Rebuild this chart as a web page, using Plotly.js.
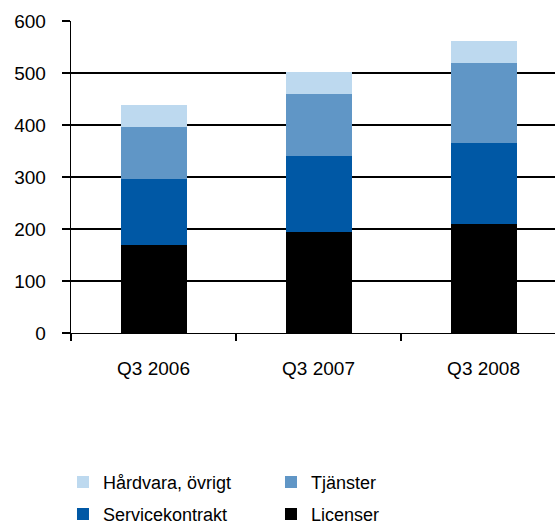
<!DOCTYPE html>
<html>
<head>
<meta charset="utf-8">
<script src="https://cdn.plot.ly/plotly-3.0.1.min.js"></script>
<style>html,body{margin:0;padding:0;background:#fff;overflow:hidden}#chart{width:555px;height:523px}</style>
</head>
<body>
<div id="chart"></div>
<script>
var categories = ["Q3 2006", "Q3 2007", "Q3 2008"];
var licenser = [170, 194, 209];
var servicekontrakt = [127, 146, 157];
var tjanster = [100, 119, 154];
var hardvara = [42, 42, 42];
var yTicks = [0, 100, 200, 300, 400, 500, 600];

var FONT = "Liberation Sans, Arial, sans-serif";
function bar(name, vals, color, legend) {
  return {type: "bar", name: name, x: categories, y: vals, legend: legend,
    marker: {color: color, line: {width: 0}}, hoverinfo: "skip"};
}
var data = [
  bar("Licenser", licenser, "#000000", "legend2"),
  bar("Servicekontrakt", servicekontrakt, "#0058A5", "legend2"),
  bar("Tjänster", tjanster, "#6096C6", "legend"),
  bar("Hårdvara, övrigt", hardvara, "#BDD9EF", "legend")
];
var legendCommon = {orientation: "h", traceorder: "reversed", entrywidth: 163, entrywidthmode: "pixels",
  font: {family: FONT, size: 18, color: "#000"}, x: 0.1135, xanchor: "left", xref: "container",
  yanchor: "middle", yref: "container", bgcolor: "rgba(0,0,0,0)"};
var layout = {
  width: 555, height: 523,
  margin: {l: 71, r: 0, t: 21, b: 190, pad: 0, autoexpand: false},
  paper_bgcolor: "#fff", plot_bgcolor: "#fff",
  barmode: "stack", bargap: 0.6,
  font: {family: FONT, color: "#000"},
  xaxis: {type: "category", range: [-0.5, 2.433], showline: true, linecolor: "#000", linewidth: 1.3,
    ticks: "outside", tickson: "boundaries", ticklen: 7, tickcolor: "#000", tickwidth: 1.3,
    ticklabelstandoff: 18,
    tickfont: {family: FONT, size: 19, color: "#000"}, showgrid: false, fixedrange: true},
  yaxis: {range: [0, 600], tickvals: yTicks, showline: true, linecolor: "#000", linewidth: 1.3,
    ticks: "outside", ticklen: 8, tickcolor: "#000", tickwidth: 1.3, ticklabelstandoff: 12,
    showgrid: true, gridcolor: "#000", gridwidth: 1.3, zeroline: false,
    tickfont: {family: FONT, size: 19, color: "#000"}, fixedrange: true},
  showlegend: true,
  legend: Object.assign({}, legendCommon, {y: 0.078}),
  legend2: Object.assign({}, legendCommon, {y: 0.0165})
};
Plotly.newPlot("chart", data, layout, {displayModeBar: false, staticPlot: true});
</script>
</body>
</html>
